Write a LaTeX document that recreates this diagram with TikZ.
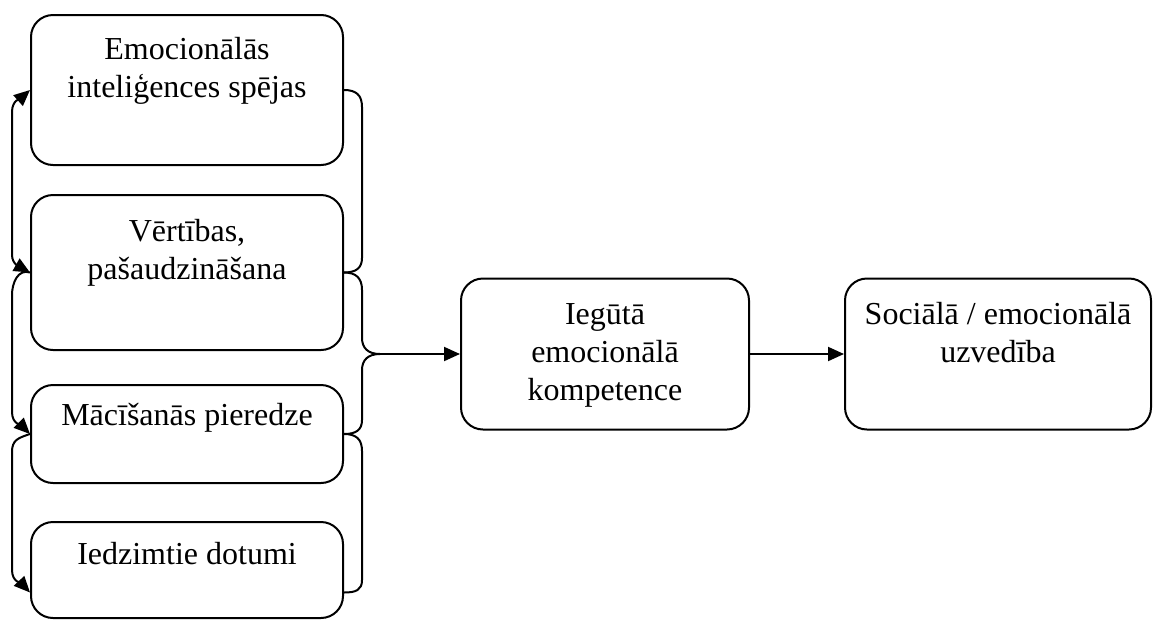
\documentclass[tikz,border=0pt]{standalone}
\usepackage{fontspec}
\setmainfont{Liberation Serif}
\usetikzlibrary{arrows.meta}

\begin{document}
\begin{tikzpicture}[x=1pt,y=1pt,
  box/.style={draw, line width=2pt, rounded corners=22pt, rectangle, inner sep=0pt},
  txt/.style={align=center, inner sep=0pt, font=\fontsize{32}{38}\selectfont},
  conn/.style={line width=2pt},
  arr/.style={-{Triangle[length=16pt,width=14pt]}},
  darr/.style={{Triangle[length=16pt,width=14pt]}-{Triangle[length=16pt,width=14pt]}}]
\useasboundingbox (0,0) rectangle (1153,-619);

% four input boxes on the left
\node[box, minimum width=312pt, minimum height=150pt] (b1) at (187,-90) {};
\node[box, minimum width=312pt, minimum height=155pt] (b2) at (187,-272.5) {};
\node[box, minimum width=312pt, minimum height=98pt]  (b3) at (187,-434) {};
\node[box, minimum width=312pt, minimum height=96pt]  (b4) at (187,-570) {};

% result boxes
\node[box, minimum width=288pt, minimum height=151pt] (m) at (605,-354) {};
\node[box, minimum width=306pt, minimum height=151pt] (r) at (998,-354) {};

% box texts
\node[txt] (t1) at (187,-71) {Emocionālās\\inteliģences spējas};
\node[txt] (t2) at (187,-253) {Vērtības,\\pašaudzināšana};
\node[txt, anchor=base] (t3) at (187,-425) {Mācīšanās pieredze};
\node[txt, anchor=base] (t4) at (187,-564) {Iedzimtie dotumi};
\node[txt] (tm) at (605,-355) {Iegūtā\\emocionālā\\kompetence};
\node[txt] (tr) at (998,-333) {Sociālā / emocionālā\\uzvedība};

% lower ends of the bottom box
\coordinate (b4w) at ([yshift=-22.5pt]b4.west);
\coordinate (b4e) at ([yshift=-22.5pt]b4.east);

% left-hand links between neighbouring boxes
\draw[conn, darr] (b1.west) .. controls +(-9,-8) and (12,-100) .. (12,-112)
  -- (12,-255) .. controls (12,-265) and (22,-268) .. (b2.west);
\draw[conn, arr] (b2.west) .. controls +(-12,4) and (12,-283) .. (12,-295)
  -- (12,-412) .. controls (12,-424) and (22,-426) .. (b3.west);
\draw[conn, arr] (b3.west) .. controls +(-12,-4) and (12,-440) .. (12,-452)
  -- (12,-570) .. controls (12,-582) and (22,-584) .. (b4w);

% right-hand brackets
\coordinate (tipc) at (380,-354);
\draw[conn] (b1.east) .. controls (356,-90) and (362,-95) .. (362,-107)
  -- (362,-258) .. controls (362,-268) and (356,-272.5) .. (b2.east);
\draw[conn] (b2.east) .. controls (356,-272.5) and (362,-278) .. (362,-290)
  -- (362,-338) .. controls (362,-348) and (368,-354) .. (tipc)
  .. controls (368,-354) and (362,-360) .. (362,-370)
  -- (362,-420) .. controls (362,-430) and (356,-434) .. (b3.east);
\draw[conn] (b3.east) .. controls (356,-434) and (362,-439) .. (362,-451)
  -- (362,-580) .. controls (362,-590) and (356,-592.5) .. (b4e);

% main flow
\draw[conn, arr] (tipc) -- (m.west);
\draw[conn, arr] (m.east) -- (r.west);
\end{tikzpicture}
\end{document}
